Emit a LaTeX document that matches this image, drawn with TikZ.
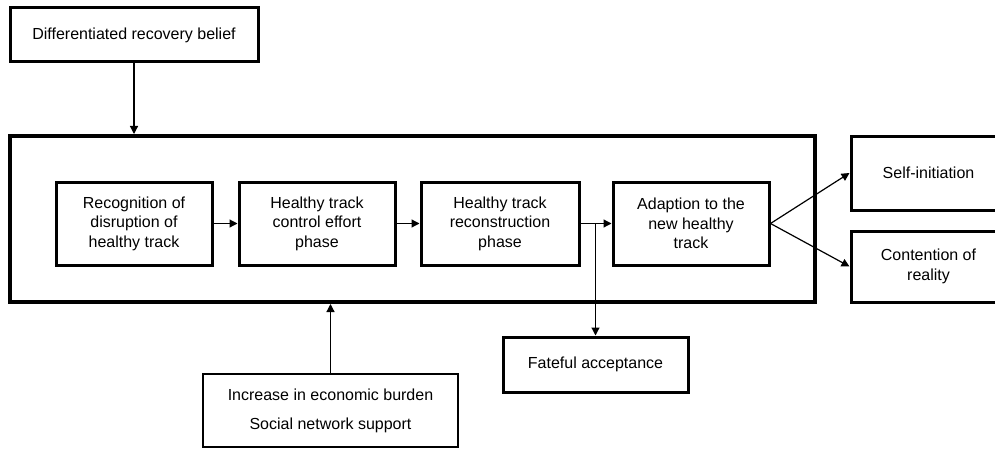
\documentclass[tikz,border=0pt]{standalone}
\usepackage{fontspec}
\setmainfont{Liberation Sans}
\usetikzlibrary{arrows.meta}

\begin{document}
\begin{tikzpicture}[x=0.5pt,y=-0.5pt,>={Triangle[length=4pt,width=4pt]},
    box/.style={draw,line width=1.5pt,align=center,inner sep=0pt,font=\fontsize{8}{9.75}\selectfont},
    stage/.style={box,minimum width=78pt,minimum height=41.5pt},
    link/.style={->,line width=0.6pt}]
        \useasboundingbox (0,0) rectangle (995,449);
        %outer frame
        \node[draw,line width=2pt,inner sep=0pt,minimum width=402.5pt,minimum height=83pt] (outer) at (412.5,219) {};
        %top and bottom influences
        \node[box,minimum width=124pt,minimum height=27pt] (belief) at (134,35) {Differentiated recovery belief};
        \node[box,line width=1.2pt,minimum width=127.5pt,minimum height=36.5pt] (burden) at (330.5,410.5) {Increase in economic burden\\[4.8pt]Social network support};
        %stages
        \node[stage] (recog) at (134,223.5) {Recognition of\\disruption of\\healthy track};
        \node[stage] (control) at (317,223.5) {Healthy track\\control effort\\phase};
        \node[stage,minimum width=79pt] (recon) at (500,223.5) {Healthy track\\reconstruction\\phase};
        \node[stage] (adapt) at (691,223.5) {Adaption to the\\new healthy\\track};
        %outcomes
        \node[box,minimum width=77.5pt,minimum height=37pt] (selfinit) at (928.5,173) {Self-initiation};
        \node[box,minimum width=77.5pt,minimum height=35.5pt] (reality) at (928.5,266.5) {Contention of\\reality};
        \node[box,minimum width=92.5pt,minimum height=27.5pt] (fate) at (595.5,364.5) {Fateful acceptance};
        %connectors
        \draw[link] (belief.south) -- (belief.south |- outer.north);
        \draw[link] (burden.north) -- (burden.north |- outer.south);
        \draw[link] (recog) -- (control);
        \draw[link] (control) -- (recon);
        \draw[link] (recon) -- (adapt);
        \draw[link] (recon.east -| fate.north) -- (fate.north);
        \draw[link] (adapt.east) -- (selfinit.west);
        \draw[link] (adapt.east) -- (reality.west);
\end{tikzpicture}
\end{document}
